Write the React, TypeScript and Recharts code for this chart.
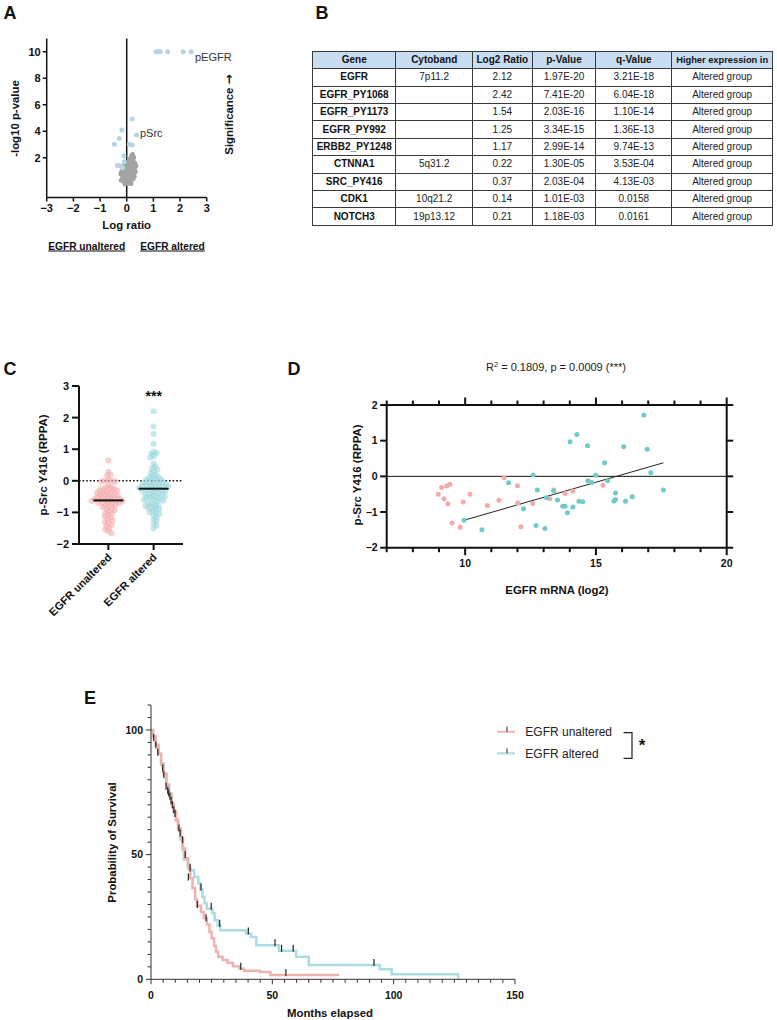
import React from 'react';
import { ScatterChart, Scatter, XAxis, YAxis, ReferenceLine, ComposedChart, Line, Legend } from 'recharts';

const FONT = "'Liberation Sans', Arial, Helvetica, sans-serif";
const INK = '#111111';

// ---------------- Panel A: volcano ----------------
const volcanoXTicks = [-3, -2, -1, 0, 1, 2, 3];
const volcanoYTicks = [2, 4, 6, 8, 10];
const volcanoTopRatios = [1.1, 1.17, 1.25, 1.54, 2.12, 2.42];
const volcanoCap = 10;
const volcanoSig = [
  [0.21, 4.92], [-0.18, 4.09], [0.37, 3.71], [-0.28, 3.46], [-0.46, 3.01], [0.1, 3.01],
  [0.21, 2.96], [-0.1, 2.13], [-0.25, 1.37], [-0.09, 1.7], [-0.35, 1.42], [-0.15, 1.25],
];
const volcanoNS = [
  [0.02, 0.05], [-0.05, 0.12], [0.08, 0.1], [-0.1, 0.2], [0.12, 0.22], [0.0, 0.25], [-0.03, 0.32],
  [0.05, 0.35], [-0.08, 0.4], [0.15, 0.38], [0.1, 0.45], [-0.14, 0.5], [0.02, 0.52], [-0.04, 0.6],
  [0.07, 0.62], [0.18, 0.55], [-0.16, 0.65], [0.12, 0.7], [-0.08, 0.72], [0.0, 0.78], [0.2, 0.75],
  [-0.12, 0.85], [0.05, 0.88], [0.15, 0.9], [-0.02, 0.95], [0.24, 0.92], [-0.18, 0.98], [0.09, 1.02],
  [-0.06, 1.08], [0.2, 1.1], [0.28, 1.05], [0.03, 1.15], [-0.13, 1.18], [0.13, 1.22], [0.23, 1.28],
  [-0.03, 1.3], [0.3, 1.25], [0.07, 1.38], [0.18, 1.42], [-0.08, 1.45], [0.26, 1.5], [0.12, 1.55],
  [0.02, 1.62], [0.2, 1.66], [0.3, 1.58], [0.15, 1.75], [0.23, 1.82], [0.1, 1.88], [0.19, 1.95],
  [0.26, 2.02], [0.18, 2.12], [0.22, 2.25], [0.34, 1.4], [-0.2, 0.3], [0.28, 0.6], [-0.22, 0.8],
  [0.04, 0.18], [-0.01, 0.42], [0.11, 0.15], [-0.12, 1.0], [0.32, 0.95], [0.24, 0.4], [-0.06, 0.02],
  [0.16, 0.05],
];

// ---------------- Panel B: table ----------------
const tableHeader = ['Gene', 'Cytoband', 'Log2 Ratio', 'p-Value', 'q-Value', 'Higher expression in'];
const tableGenes = ['EGFR', 'EGFR_PY1068', 'EGFR_PY1173', 'EGFR_PY992', 'ERBB2_PY1248', 'CTNNA1', 'SRC_PY416', 'CDK1', 'NOTCH3'];
const tableCytobands = ['7p11.2', '', '', '', '', '5q31.2', '', '10q21.2', '19p13.12'];
const tableLog2 = ['2.12', '2.42', '1.54', '1.25', '1.17', '0.22', '0.37', '0.14', '0.21'];
const tablePValues = ['1.97E-20', '7.41E-20', '2.03E-16', '3.34E-15', '2.99E-14', '1.30E-05', '2.03E-04', '1.01E-03', '1.18E-03'];
const tableQValues = ['3.21E-18', '6.04E-18', '1.10E-14', '1.36E-13', '9.74E-13', '3.53E-04', '4.13E-03', '0.0158', '0.0161'];
const tableHigherIn = ['Altered group', 'Altered group', 'Altered group', 'Altered group', 'Altered group', 'Altered group', 'Altered group', 'Altered group', 'Altered group'];

// ---------------- Panel C: dot plot ----------------
const cCategories = ['EGFR unaltered', 'EGFR altered'];
const cYTicks = [-2, -1, 0, 1, 2, 3];
const cUnaltered = [
  0.64, 0.29, 0.2, 0.17, 0.04, 0.01, -0.02, 0.0, -0.03, -0.12, -0.18, -0.21, -0.24, -0.27, -0.3, -0.31,
  -0.34, -0.36, -0.38, -0.41, -0.43, -0.44, -0.47, -0.5, -0.51, -0.53, -0.55, -0.56, -0.58, -0.6, -0.61,
  -0.63, -0.64, -0.66, -0.68, -0.69, -0.71, -0.73, -0.76, -0.78, -0.81, -0.83, -0.86, -0.9, -0.93, -0.97,
  -1.01, -1.04, -1.08, -1.12, -1.17, -1.22, -1.26, -1.3, -1.35, -1.39, -1.44, -1.49, -1.55, -1.6, -1.66,
  -0.45, -0.57, -0.62, -0.7, -0.35, -0.25,
];
const cAltered = [
  2.2, 1.72, 1.48, 1.17, 0.93, 0.88, 0.85, 0.78, 0.74, 0.55, 0.45, 0.36, 0.3, 0.25, 0.2, 0.14, 0.1, 0.06,
  0.03, 0.0, -0.02, -0.04, -0.07, -0.09, -0.12, -0.14, -0.16, -0.18, -0.2, -0.22, -0.24, -0.26, -0.28,
  -0.3, -0.33, -0.35, -0.37, -0.4, -0.42, -0.45, -0.47, -0.5, -0.53, -0.55, -0.58, -0.6, -0.63, -0.66,
  -0.7, -0.73, -0.77, -0.8, -0.84, -0.87, -0.9, -0.95, -1.0, -1.05, -1.1, -1.15, -1.22, -1.28, -1.35,
  -1.42, -1.5, 0.05, -0.1, -0.19, -0.27, -0.31, -0.44, -0.52, -0.61, -0.78, -0.88, -1.0, 0.12, -0.05,
  -0.15, 0.4,
];
const cMedians = [-0.62, -0.25];

// ---------------- Panel D: scatter ----------------
const dXTicks = [7, 8, 9, 10, 11, 12, 13, 14, 15, 16, 17, 18, 19, 20];
const dXLabels = [10, 15, 20];
const dYTicks = [-2, -1, 0, 1, 2];
const dUnaltered = [
  [8.97, -0.5], [9.1, -0.31], [9.29, -0.27], [9.42, -0.22], [9.19, -0.63], [9.34, -0.77], [10.18, -0.5],
  [9.92, -0.72], [9.5, -1.31], [9.81, -1.43], [10.85, -0.82], [11.29, -0.67], [11.49, -0.04], [12.0, -0.26],
  [12.01, -0.75], [12.13, -1.41], [12.58, -0.76], [13.24, -0.63], [13.39, -0.38], [13.82, -0.48],
  [14.12, -0.41], [15.27, -0.25],
];
const dAltered = [
  [9.96, -1.23], [10.64, -1.5], [11.66, -0.18], [12.23, -0.91], [12.6, 0.04], [12.76, -0.38], [12.71, -1.38],
  [13.05, -1.46], [13.11, -0.6], [13.39, -0.41], [13.53, -0.66], [13.73, -0.84], [13.82, -0.84], [13.91, -1.02],
  [14.01, 0.97], [14.12, -0.86], [14.27, 1.17], [14.35, -0.7], [14.5, -0.71], [14.68, 0.86], [14.69, -0.12],
  [14.84, -0.17], [14.99, 0.03], [15.33, 0.38], [15.45, -0.12], [15.69, -0.69], [15.75, -0.65], [15.75, -0.47],
  [16.06, 0.83], [16.13, -0.7], [16.39, -0.57], [16.83, 1.72], [16.96, 0.76], [17.1, 0.1], [17.58, -0.38],
];
const dFit = [[9.96, -1.23], [17.58, 0.38]];

// ---------------- Panel E: Kaplan-Meier ----------------
const kmLabels = ['EGFR unaltered', 'EGFR altered'];
const eXLabels = [0, 50, 100, 150];
const eYLabels = [0, 50, 100];
const kmUnaltered = [
  [0, 100], [0.8, 97.5], [1.9, 94], [3.1, 90.5], [4.2, 86], [5.1, 82.5], [6.3, 78], [7.2, 74.5], [8.4, 70.5],
  [9.3, 67.5], [10.2, 64], [11.1, 60.5], [12.3, 56.5], [13.2, 52.5], [14.1, 48.5], [15.3, 44.5], [16.2, 40.5],
  [17.1, 36.5], [18.2, 32], [19, 29.5], [20.6, 27], [21.8, 24.5], [23, 22], [24.1, 19], [25, 16.5], [26, 13.5],
  [26.8, 11], [27.7, 9], [29.5, 7.7], [31.5, 6.6], [33.8, 5.2], [36.5, 4.2], [38.4, 3.4], [44.8, 2.9],
  [49.2, 1.7], [77.5, 1.7],
];
const kmAltered = [
  [0, 100], [0.9, 97.5], [2, 94], [3, 90.5], [4.1, 86.5], [5.3, 82], [6.4, 78], [7.5, 74], [8.6, 70], [9.5, 67],
  [10.4, 63.5], [11.3, 60], [12.2, 56], [12.9, 52], [13.5, 48], [15.2, 46], [16, 43.7], [17.8, 41], [19.5, 38.5],
  [20.3, 36], [21.2, 33], [22, 30.5], [23, 28.3], [25.3, 26.5], [26.2, 23.7], [27.5, 21.5], [28.6, 19.7],
  [39.2, 18.4], [41.2, 17], [43.4, 13.7], [52.7, 11.4], [59.8, 9], [65, 5.7], [94.2, 4], [99.2, 2], [126.6, 0],
];
const censorUnaltered = [
  [1.1, 96], [2.8, 90], [5.3, 81], [6.9, 74.8], [7.8, 72.4], [8.8, 69], [9.9, 65.5], [12.0, 57.7],
  [15.4, 40], [19.1, 29], [22.7, 23.7], [37.0, 4.2], [55.6, 1.7],
];
const censorAltered = [
  [2.0, 93], [4.8, 83.7], [6.2, 76.4], [7.3, 73.7], [8.3, 70.8], [9.4, 67], [11.5, 59.7], [13, 55], [14.1, 49],
  [16.1, 43.7], [20.6, 36], [24.8, 28.3], [28.3, 21.5], [40.1, 18.4], [51.1, 13.7], [53.8, 11.4], [58.6, 11.4],
  [91.9, 5.7],
];

// ---------------- helpers ----------------
const PINK_C = '#f4a8a8';
const TEAL_C = '#96d6dc';
const PINK_D = '#f3aaaa';
const TEAL_D = '#6fcaca';
const PINK_E = '#efb2ae';
const TEAL_E = '#a9dde1';
const BLUE_A = '#b3d5e6';
const GRAY_A = '#a3a3a3';

const minus = (v: number) => (v < 0 ? '\u2212' + Math.abs(v) : String(v));
const toXY = (pairs: number[][]) => pairs.map(([x, y]) => ({ x, y }));
const toTS = (pairs: number[][]) => pairs.map(([t, s]) => ({ t, s }));
const dot = (r: number, fill: string, opacity = 1) => (p: any) =>
  <circle cx={p.cx} cy={p.cy} r={r} fill={fill} fillOpacity={opacity} />;

function swarm(values: number[], center: number, pxPerY: number, pxPerX: number, d: number) {
  const order = values.map((_, i) => i).sort((a, b) => values[b] - values[a]);
  const placed: { x: number; y: number }[] = [];
  const out: { x: number; y: number }[] = new Array(values.length);
  for (const i of order) {
    const py = values[i] * pxPerY;
    const cands = [0];
    for (const p of placed) {
      const dy = Math.abs(p.y - py);
      if (dy < d) {
        const dx = Math.sqrt(d * d - dy * dy);
        cands.push(p.x + dx, p.x - dx);
      }
    }
    cands.sort((a, b) => Math.abs(a) - Math.abs(b));
    let chosen = 0;
    for (const c of cands) {
      if (placed.every((p) => (p.x - c) ** 2 + (p.y - py) ** 2 >= d * d - 0.01)) {
        chosen = c;
        break;
      }
    }
    placed.push({ x: chosen, y: py });
    out[i] = { x: center + chosen / pxPerX, y: values[i] };
  }
  return out;
}

const boldTick = { fontSize: 11, fontWeight: 700, fill: INK, fontFamily: FONT };

// ---------------- Panel A ----------------
function Volcano() {
  const ns = toXY(volcanoNS);
  const sig = [...toXY(volcanoSig), ...volcanoTopRatios.map((x) => ({ x, y: volcanoCap }))];
  return (
    <div style={{ position: 'absolute', left: 0, top: 0 }}>
      <ScatterChart width={240} height={240} margin={{ top: 38.5, right: 33.3, bottom: 22.5, left: 0 }}>
        <XAxis type="number" dataKey="x" domain={[-3, 3]} ticks={volcanoXTicks} interval={0} height={20}
          tickSize={4} tickMargin={3} tickFormatter={minus} tick={boldTick}
          axisLine={{ stroke: INK, strokeWidth: 1.5 }} tickLine={{ stroke: INK, strokeWidth: 1.5 }} />
        <YAxis type="number" dataKey="y" domain={[-1, 11]} ticks={volcanoYTicks} interval={0} width={46.7}
          tickSize={4} tickMargin={2} tick={boldTick}
          axisLine={{ stroke: INK, strokeWidth: 1.5 }} tickLine={{ stroke: INK, strokeWidth: 1.5 }} />
        <ReferenceLine x={0} stroke={INK} strokeWidth={1.5} />
        <Scatter data={ns} fill={GRAY_A} shape={dot(2.5, GRAY_A)} isAnimationActive={false} />
        <Scatter data={sig} fill={BLUE_A} shape={dot(2.5, BLUE_A)} isAnimationActive={false} />
      </ScatterChart>
    </div>
  );
}

// ---------------- Panel B ----------------
function GeneTable() {
  const colWidths = [83.4, 76.6, 59.7, 63.7, 76, 100.6];
  const total = colWidths.reduce((a, b) => a + b, 0);
  const cell: React.CSSProperties = {
    border: '1px solid #3a3a3a', padding: 0, textAlign: 'center', whiteSpace: 'nowrap',
    lineHeight: '12px', overflow: 'visible',
  };
  const rows = tableGenes.map((g, i) => [g, tableCytobands[i], tableLog2[i], tablePValues[i], tableQValues[i], tableHigherIn[i]]);
  return (
    <table style={{
      position: 'absolute', left: 312, top: 50.5, width: total, borderCollapse: 'collapse', tableLayout: 'fixed',
      fontFamily: FONT, fontSize: 10, color: INK,
    }}>
      <colgroup>{colWidths.map((w, i) => <col key={i} style={{ width: w }} />)}</colgroup>
      <thead>
        <tr style={{ height: 17.7, background: '#c8ddf1' }}>
          {tableHeader.map((h, j) => (
            <th key={h} style={{ ...cell, fontWeight: 700, fontSize: j === 5 ? 9.3 : 10 }}>{h}</th>
          ))}
        </tr>
      </thead>
      <tbody>
        {rows.map((r, i) => (
          <tr key={i} style={{ height: 17.4 }}>
            {r.map((v, j) => <td key={j} style={{ ...cell, fontWeight: j === 0 ? 700 : 400, color: j === 0 ? INK : '#222' }}>{v}</td>)}
          </tr>
        ))}
      </tbody>
    </table>
  );
}

// ---------------- Panel C ----------------
function CTickX(p: any) {
  const idx = p.payload.value === 1 ? 0 : 1;
  const tx = p.x + 4;
  const ty = p.y + 14;
  return (
    <g>
      <line x1={p.x} x2={p.x} y1={p.y} y2={p.y + 6} stroke={INK} strokeWidth={2} />
      <text x={tx} y={ty} textAnchor="end" transform={`rotate(-45 ${tx} ${ty})`} fontSize={11} fontWeight={700}
        fill={INK} fontFamily={FONT}>{cCategories[idx]}</text>
    </g>
  );
}
const MedianBar = (p: any) => <line x1={p.cx - 15} x2={p.cx + 15} y1={p.cy} y2={p.cy} stroke={INK} strokeWidth={2} />;

function DotPlot() {
  const pxPerY = 158 / 5;
  const pxPerX = 104 / 2.3;
  const u = swarm(cUnaltered, 1, pxPerY, pxPerX, 3.6);
  const a = swarm(cAltered, 2, pxPerY, pxPerX, 3.6);
  const medians = cMedians.map((y, i) => ({ x: i + 1, y }));
  return (
    <div style={{ position: 'absolute', left: 0, top: 370 }}>
      <ScatterChart width={200} height={290} margin={{ top: 16, right: 17, bottom: 0, left: 0 }}>
        <XAxis type="number" dataKey="x" domain={[0.35, 2.65]} ticks={[1, 2]} interval={0} height={116}
          tickSize={0} tickMargin={0} tickLine={false} tick={<CTickX />}
          axisLine={{ stroke: INK, strokeWidth: 2 }} />
        <YAxis type="number" dataKey="y" domain={[-2, 3]} ticks={cYTicks} interval={0} width={79}
          tickSize={7} tickMargin={3} tickFormatter={minus} tick={boldTick}
          axisLine={{ stroke: INK, strokeWidth: 2 }} tickLine={{ stroke: INK, strokeWidth: 2 }} />
        <ReferenceLine y={0} stroke={INK} strokeWidth={1.6} strokeDasharray="1.6 2" />
        <Scatter data={u} fill={PINK_C} shape={dot(3, PINK_C, 0.55)} isAnimationActive={false} />
        <Scatter data={a} fill={TEAL_C} shape={dot(3, TEAL_C, 0.55)} isAnimationActive={false} />
        <Scatter data={medians} fill={INK} shape={MedianBar} isAnimationActive={false} />
      </ScatterChart>
    </div>
  );
}

// ---------------- Panel D ----------------
const dLabel = { fontSize: 10.5, fontWeight: 700, fill: INK, fontFamily: FONT };
function DTickBottom(p: any) {
  const v = p.payload.value;
  const major = dXLabels.includes(v);
  return (
    <g>
      <line x1={p.x} x2={p.x} y1={p.y} y2={p.y + (major ? 7.5 : 4.5)} stroke={INK} strokeWidth={2} />
      {major && <text x={p.x} y={p.y + 19.5} textAnchor="middle" {...dLabel}>{v}</text>}
    </g>
  );
}
function DTickTop(p: any) {
  const v = p.payload.value;
  const major = dXLabels.includes(v);
  return <line x1={p.x} x2={p.x} y1={p.y} y2={p.y - (major ? 7.5 : 4.5)} stroke={INK} strokeWidth={2} />;
}
function DTickLeft(p: any) {
  const v = p.payload.value;
  return (
    <g>
      <line x1={p.x} x2={p.x - 6.5} y1={p.y} y2={p.y} stroke={INK} strokeWidth={2} />
      <text x={p.x - 9} y={p.y} dy="0.36em" textAnchor="end" {...dLabel}>{minus(v)}</text>
    </g>
  );
}
function DTickRight(p: any) {
  return <line x1={p.x} x2={p.x + 6.5} y1={p.y} y2={p.y} stroke={INK} strokeWidth={2} />;
}

function Correlation() {
  const u = toXY(dUnaltered);
  const a = toXY(dAltered);
  const axisLine = { stroke: INK, strokeWidth: 2 };
  return (
    <div style={{ position: 'absolute', left: 200, top: 380 }}>
      <ScatterChart width={577} height={220} margin={{ top: 0, right: 0, bottom: 0, left: 0 }}>
        <XAxis xAxisId="bottom" type="number" dataKey="x" domain={[7, 20]} ticks={dXTicks} interval={0} height={52.3}
          tickSize={0} tickMargin={0} tickLine={false} tick={<DTickBottom />} axisLine={axisLine} />
        <XAxis xAxisId="top" orientation="top" type="number" dataKey="x" domain={[7, 20]} ticks={dXTicks} interval={0}
          height={25} tickSize={0} tickMargin={0} tickLine={false} tick={<DTickTop />} axisLine={axisLine} />
        <YAxis yAxisId="left" type="number" dataKey="y" domain={[-2, 2]} ticks={dYTicks} interval={0} width={186.7}
          tickSize={0} tickMargin={0} tickLine={false} tick={<DTickLeft />} axisLine={axisLine} />
        <YAxis yAxisId="right" orientation="right" type="number" dataKey="y" domain={[-2, 2]} ticks={dYTicks}
          interval={0} width={50.3} tickSize={0} tickMargin={0} tickLine={false} tick={<DTickRight />} axisLine={axisLine} />
        <ReferenceLine xAxisId="bottom" yAxisId="left" y={0} stroke={INK} strokeWidth={1} />
        <Scatter xAxisId="top" yAxisId="right" data={a} shape={() => <g />} isAnimationActive={false} />
        <Scatter xAxisId="bottom" yAxisId="left" data={u} fill={PINK_D} shape={dot(2.5, PINK_D)} isAnimationActive={false} />
        <Scatter xAxisId="bottom" yAxisId="left" data={a} fill={TEAL_D} shape={dot(2.5, TEAL_D)} isAnimationActive={false} />
        <ReferenceLine xAxisId="bottom" yAxisId="left"
          segment={[{ x: dFit[0][0], y: dFit[0][1] }, { x: dFit[1][0], y: dFit[1][1] }]} stroke="#222" strokeWidth={1} />
      </ScatterChart>
    </div>
  );
}

// ---------------- Panel E ----------------
const eXTicks = Array.from({ length: 31 }, (_, i) => i * 5);
const eYTicks = Array.from({ length: 23 }, (_, i) => i * 5);
function EXTick(p: any) {
  const v = p.payload.value;
  const major = eXLabels.includes(v);
  return (
    <g>
      <line x1={p.x} x2={p.x} y1={p.y} y2={p.y + (major ? 5 : 3.5)} stroke="#333" strokeWidth={1} />
      {major && <text x={p.x} y={p.y + 19.5} textAnchor="middle" fontSize={10.5} fontWeight={700} fill={INK} fontFamily={FONT}>{v}</text>}
    </g>
  );
}
function EYTick(p: any) {
  const v = p.payload.value;
  const major = eYLabels.includes(v);
  return (
    <g>
      <line x1={p.x} x2={p.x - (major ? 5 : 3.5)} y1={p.y} y2={p.y} stroke="#333" strokeWidth={1} />
      {major && <text x={p.x - 8} y={p.y} dy="0.36em" textAnchor="end" fontSize={10.5} fontWeight={700} fill={INK} fontFamily={FONT}>{v}</text>}
    </g>
  );
}
const CensorTick = (p: any) => <line x1={p.cx} x2={p.cx} y1={p.cy - 6} y2={p.cy + 1} stroke="#222" strokeWidth={1.2} />;

function KMLegend() {
  const colors = [PINK_E, TEAL_E];
  return (
    <svg width={160} height={40} style={{ overflow: 'visible', display: 'block' }}>
      {kmLabels.map((lab, i) => {
        const y = 6.7 + i * 21.6;
        return (
          <g key={lab}>
            <line x1={0} x2={18} y1={y} y2={y} stroke={colors[i]} strokeWidth={2} />
            <line x1={10} x2={10} y1={y - 5} y2={y} stroke="#222" strokeWidth={1} />
            <text x={28.3} y={y + 4.2} fontSize={12} fill="#222" fontFamily={FONT}>{lab}</text>
          </g>
        );
      })}
      <path d="M126.6 7.7 H135 V33.3 H126.6" fill="none" stroke="#222" strokeWidth={1.2} />
      <text x={145} y={26} textAnchor="middle" fontSize={17} fontWeight={700} fill={INK} fontFamily={FONT}>*</text>
    </svg>
  );
}

function Survival() {
  return (
    <div style={{ position: 'absolute', left: 80, top: 690 }}>
      <ComposedChart width={460} height={330} margin={{ top: 15, right: 25, bottom: 0, left: 0 }}>
        <XAxis type="number" dataKey="t" domain={[0, 150]} ticks={eXTicks} interval={0} height={40.7}
          tickSize={0} tickMargin={0} tickLine={false} tick={<EXTick />} axisLine={{ stroke: '#333', strokeWidth: 1 }} />
        <YAxis type="number" dataKey="s" domain={[0, 110]} ticks={eYTicks} interval={0} width={71}
          tickSize={0} tickMargin={0} tickLine={false} tick={<EYTick />} axisLine={{ stroke: '#333', strokeWidth: 1 }} />
        <Line data={toTS(kmAltered)} dataKey="s" type="stepAfter" stroke={TEAL_E} strokeWidth={2.5} dot={false}
          isAnimationActive={false} name={kmLabels[1]} />
        <Line data={toTS(kmUnaltered)} dataKey="s" type="stepAfter" stroke={PINK_E} strokeWidth={2.5} dot={false}
          isAnimationActive={false} name={kmLabels[0]} />
        <Scatter data={toTS(censorAltered)} dataKey="s" shape={CensorTick} isAnimationActive={false} legendType="none" />
        <Scatter data={toTS(censorUnaltered)} dataKey="s" shape={CensorTick} isAnimationActive={false} legendType="none" />
        <Legend layout="vertical" align="center" verticalAlign="middle" content={<KMLegend />}
          wrapperStyle={{ position: 'absolute', left: 416.7, top: 35, width: 160, height: 40 }} />
      </ComposedChart>
    </div>
  );
}

// ---------------- Overlay text ----------------
function Overlay() {
  const title = { fontSize: 11.4, fontWeight: 700, fill: INK, fontFamily: FONT };
  const letter = { fontSize: 18, fontWeight: 700, fill: INK, fontFamily: FONT, textAnchor: 'middle' as const };
  return (
    <svg width={777} height={1020} style={{ position: 'absolute', left: 0, top: 0, pointerEvents: 'none' }}>
      <text x={10} y={18.5} {...letter}>A</text>
      <text x={322} y={18.5} {...letter}>B</text>
      <text x={10} y={374.5} {...letter}>C</text>
      <text x={294} y={374.5} {...letter}>D</text>
      <text x={90} y={703.5} {...letter}>E</text>

      <text transform="translate(15,118.5) rotate(-90)" textAnchor="middle" dominantBaseline="central" {...title}>-log10 p-value</text>
      <text transform="translate(229,114.5) rotate(-90)" textAnchor="middle" dominantBaseline="central" {...title}>
        Significance <tspan fontFamily="'DejaVu Sans', sans-serif" fontSize={12}>→</tspan>
      </text>
      <text x={126.7} y={229} textAnchor="middle" {...title}>Log ratio</text>
      <text x={86.7} y={249.5} textAnchor="middle" {...title} fontSize={10.2} textDecoration="underline">EGFR unaltered</text>
      <text x={172.5} y={249.5} textAnchor="middle" {...title} fontSize={10.2} textDecoration="underline">EGFR altered</text>
      <text x={195} y={61} fontSize={11} fill="#333" fontFamily={FONT}>pEGFR</text>
      <text x={140} y={137.3} fontSize={11} fill="#333" fontFamily={FONT}>pSrc</text>

      <text transform="translate(43,465) rotate(-90)" textAnchor="middle" dominantBaseline="central" {...title} fontSize={11.5}>p-Src Y416 (RPPA)</text>
      <text x={153.7} y={401} textAnchor="middle" fontSize={14} fontWeight={700} fill={INK} fontFamily={FONT}>***</text>

      <text x={556} y={370.5} textAnchor="middle" fontSize={11} fill="#222" fontFamily={FONT}>
        R<tspan fontSize={7.5} dy={-4}>2</tspan><tspan dy={4}> = 0.1809, p = 0.0009 (***)</tspan>
      </text>
      <text transform="translate(356.7,475) rotate(-90)" textAnchor="middle" dominantBaseline="central" {...title} fontSize={11.5}>p-Src Y416 (RPPA)</text>
      <text x={557} y={594} textAnchor="middle" {...title}>EGFR mRNA (log2)</text>

      <text transform="translate(111.7,842.5) rotate(-90)" textAnchor="middle" dominantBaseline="central" {...title}>Probability of Survival</text>
      <text x={330} y={1016.7} textAnchor="middle" {...title}>Months elapsed</text>
    </svg>
  );
}

export default function App() {
  return (
    <div style={{ position: 'absolute', left: 0, top: 0, width: 777, height: 1020, background: '#fff', overflow: 'hidden', fontFamily: FONT }}>
      <Volcano />
      <GeneTable />
      <DotPlot />
      <Correlation />
      <Survival />
      <Overlay />
    </div>
  );
}
